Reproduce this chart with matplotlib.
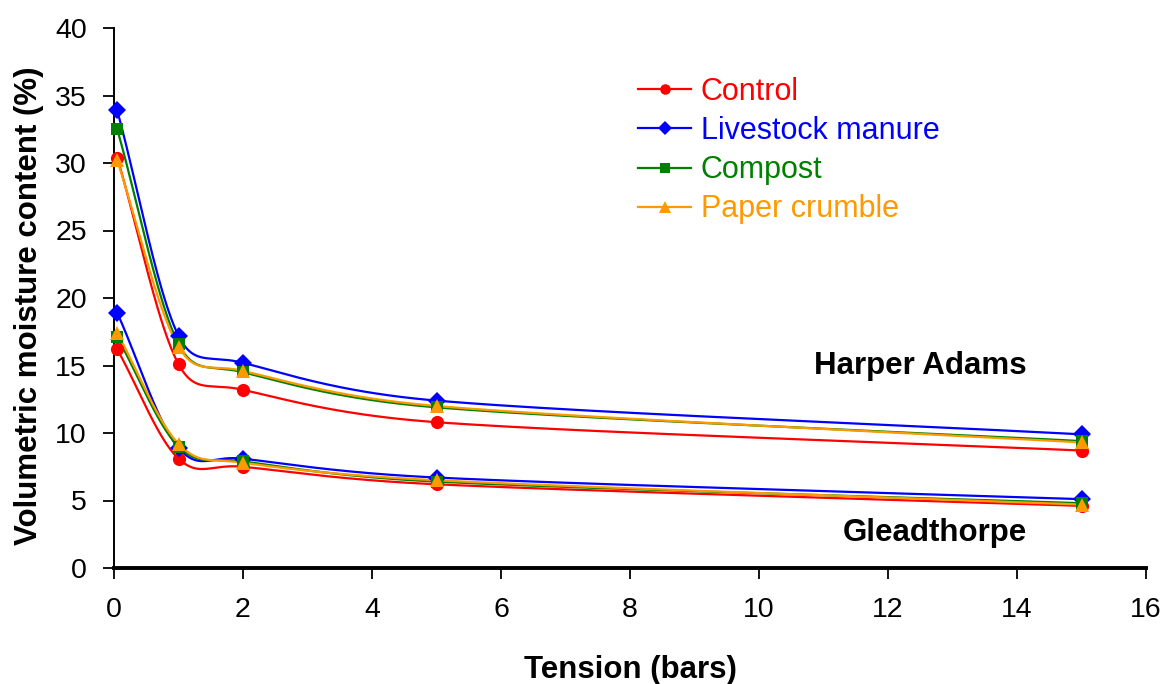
import numpy as np
import matplotlib
matplotlib.use("Agg")
import matplotlib.pyplot as plt

# Tension (bars) at which moisture content was measured
tension = [0.05, 1, 2, 5, 15]

# Volumetric moisture content (%) - Harper Adams
ha_control = [30.4, 15.1, 13.2, 10.8, 8.7]
ha_manure = [33.9, 17.2, 15.2, 12.4, 9.9]
ha_compost = [32.5, 16.6, 14.5, 11.9, 9.4]
ha_paper = [30.2, 16.4, 14.6, 12.0, 9.3]

# Volumetric moisture content (%) - Gleadthorpe
gl_control = [16.2, 8.1, 7.5, 6.2, 4.6]
gl_manure = [18.9, 8.9, 8.1, 6.7, 5.1]
gl_compost = [17.1, 9.0, 7.9, 6.4, 4.8]
gl_paper = [17.4, 9.2, 7.8, 6.5, 4.7]

labels = ["Control", "Livestock manure", "Compost", "Paper crumble"]
colors = ["#FF0000", "#0000FF", "#008000", "#FF9900"]
markers = ["o", "D", "s", "^"]
msizes = [9.5, 9.0, 8.5, 10.5]

font = "Liberation Sans"


def smooth_xy(ax, xs, ys, n=40):
    """Bezier smoothing done in display space, Excel style."""
    pts = ax.transData.transform(np.column_stack([xs, ys]))
    out = [pts[0]]
    m = len(pts)
    for i in range(m - 1):
        p0 = pts[i - 1] if i > 0 else pts[i]
        p1, p2 = pts[i], pts[i + 1]
        p3 = pts[i + 2] if i + 2 < m else pts[i + 1]
        seg = np.linalg.norm(p2 - p1)
        d1 = (p2 - p0) / 6.0
        d2 = (p3 - p1) / 6.0
        if i == 0:
            d1 = (p2 - p1) / 3.0
        if i + 2 >= m:
            d2 = (p2 - p1) / 3.0
        for d in (d1, d2):
            ln = np.linalg.norm(d)
            if ln > seg / 2:
                d *= (seg / 2) / ln
        c1 = p1 + d1
        c2 = p2 - d2
        t = np.linspace(0, 1, n)[1:, None]
        b = ((1 - t) ** 3) * p1 + 3 * ((1 - t) ** 2) * t * c1 \
            + 3 * (1 - t) * t ** 2 * c2 + t ** 3 * p2
        out.extend(b)
    out = ax.transData.inverted().transform(np.array(out))
    return out[:, 0], out[:, 1]


fig = plt.figure(figsize=(11.7, 6.84), dpi=100)
ax = fig.add_axes([114 / 1170, 1 - 568 / 684, 1032 / 1170, 540 / 684])
ax.set_xlim(0, 16)
ax.set_ylim(0, 40)

groups = [
    [ha_control, ha_manure, ha_compost, ha_paper],
    [gl_control, gl_manure, gl_compost, gl_paper],
]

handles = []
for g, series in enumerate(groups):
    for vals, lab, col, mk, ms in zip(series, labels, colors, markers, msizes):
        sx, sy = smooth_xy(ax, tension, vals)
        ax.plot(sx, sy, color=col, lw=1.6, zorder=2)
        ax.plot(tension, vals, linestyle="none", marker=mk, ms=ms,
                color=col, markeredgewidth=0, zorder=3, clip_on=False)
        if g == 0:
            h, = ax.plot([], [], color=col, lw=1.6, marker=mk,
                         ms=ms * 0.8, markeredgewidth=0, label=lab)
            handles.append(h)

ax.set_xticks(np.arange(0, 17, 2))
ax.set_yticks(np.arange(0, 41, 5))
for spine in ["top", "right"]:
    ax.spines[spine].set_visible(False)
ax.spines["left"].set_linewidth(1.4)
ax.spines["bottom"].set_linewidth(2.8)
ax.tick_params(axis="y", direction="out", length=8, width=1.3, pad=11.5)
ax.tick_params(axis="x", direction="out", length=8, width=1.3, pad=13)
for lbl in ax.get_xticklabels() + ax.get_yticklabels():
    lbl.set_fontfamily(font)
    lbl.set_fontsize(20.5)

ax.set_xlabel("Tension (bars)", fontsize=22.5, fontweight="bold", family=font)
ax.set_ylabel("Volumetric moisture content (%)", fontsize=22.5,
              fontweight="bold", family=font)
ax.xaxis.set_label_coords(0.5, (568 - 655) / 540)
ax.yaxis.set_label_coords((44 - 114) / 1032, (568 - 306) / 540)

ax.text(12.50, 15.25, "Harper Adams", fontsize=22.5, fontweight="bold",
        family=font, ha="center", va="center_baseline")
ax.text(12.72, 2.85, "Gleadthorpe", fontsize=22.5, fontweight="bold",
        family=font, ha="center", va="center_baseline")

leg = ax.legend(handles=handles, loc="upper left",
                bbox_to_anchor=(638 / 1170, 1 - 77 / 684),
                bbox_transform=fig.transFigure, frameon=False,
                prop={"family": font, "size": 22},
                handlelength=1.75, handletextpad=0.3, labelspacing=0.3,
                borderpad=0, borderaxespad=0)
for txt, col in zip(leg.get_texts(), colors):
    txt.set_color(col)

fig.savefig("out.png", dpi=100)
